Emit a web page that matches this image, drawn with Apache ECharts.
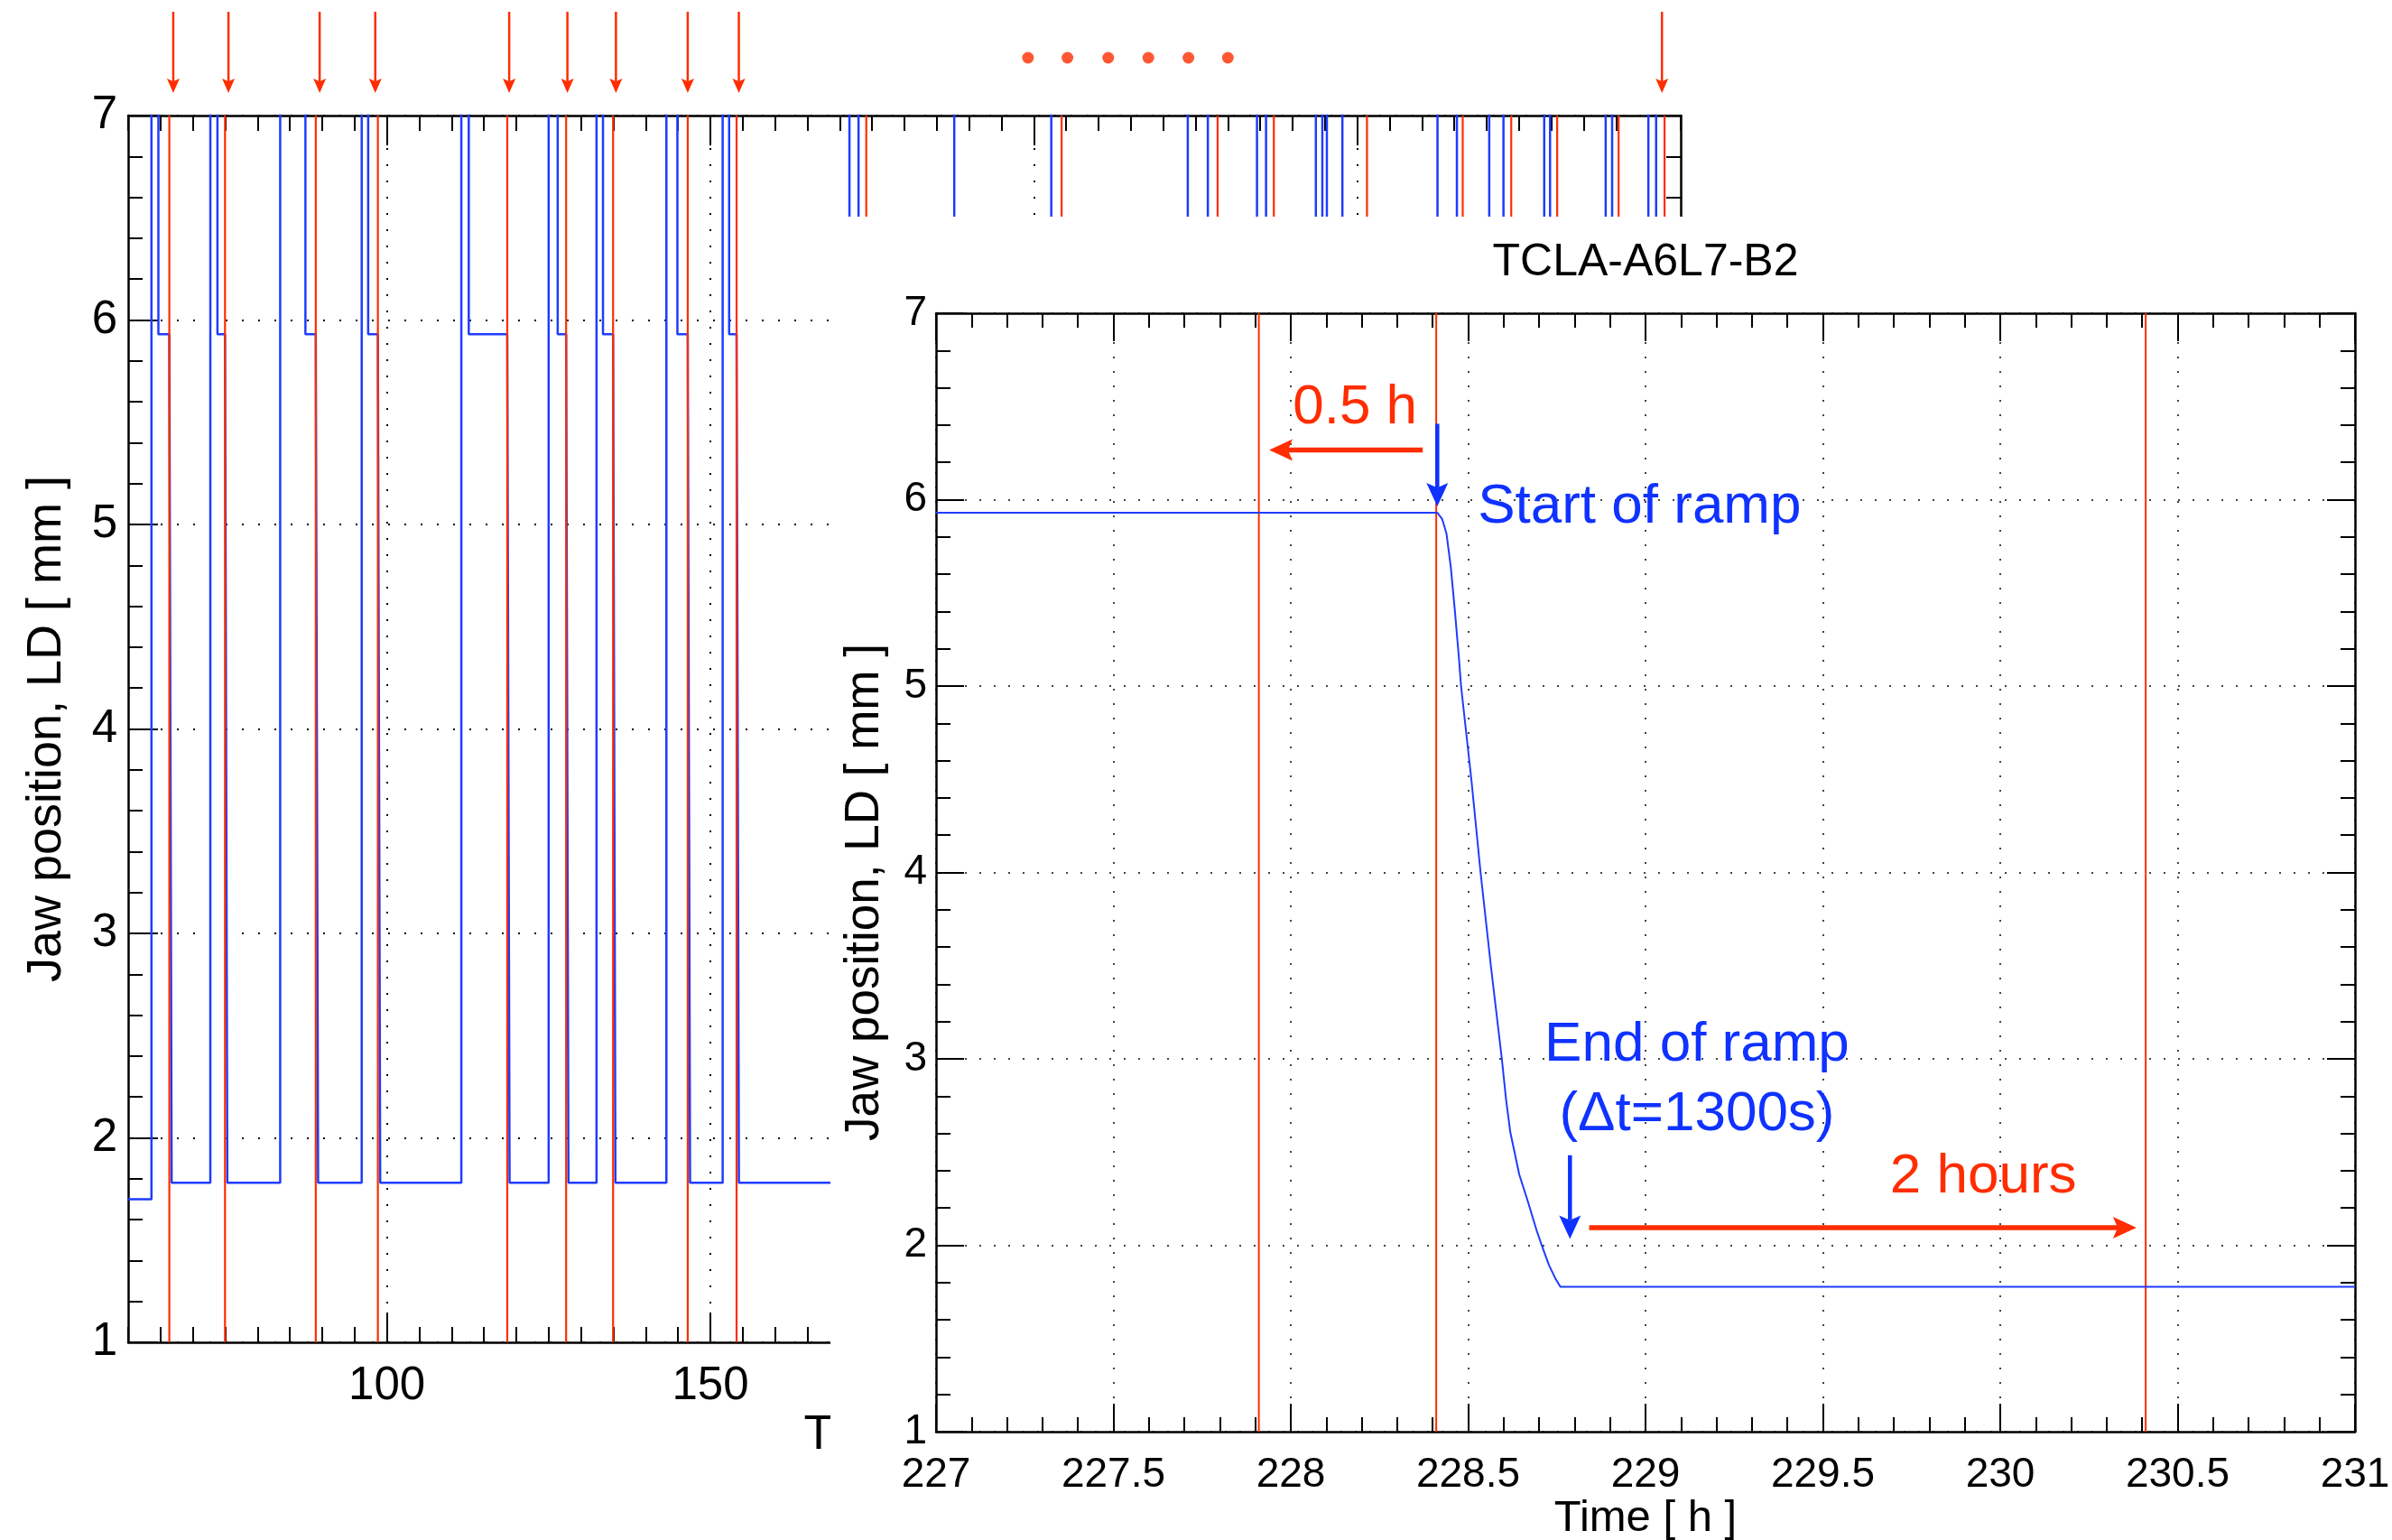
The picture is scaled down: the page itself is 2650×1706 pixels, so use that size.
<!DOCTYPE html>
<html><head><meta charset="utf-8">
<script src="https://cdn.jsdelivr.net/npm/echarts@6/dist/echarts.min.js"></script>
<style>html,body{margin:0;padding:0;background:#fff}#c{width:2650px;height:1706px}</style>
</head><body><div id="c"></div>
<script>
// ================= DATA =================
// Overview (background) chart: jaw position vs time [h]; 9 = jaw open (off scale above 7 mm)
const overviewTime = [60, 63.6, 63.6, 64.67, 64.67, 66.36, 66.72, 72.7, 72.7, 73.8, 73.8, 74.97, 75.33,
  83.5, 83.5, 87.4, 87.4, 89.0, 89.36, 96.1, 96.1, 97.1, 97.1, 98.6, 98.96,
  111.5, 111.5, 112.65, 112.65, 118.6, 118.96, 125.0, 125.0, 126.4, 126.4, 127.7, 128.06,
  132.4, 132.4, 133.4, 133.4, 134.96, 135.32, 143.2, 143.2, 144.9, 144.9, 146.5, 146.86,
  151.9, 151.9, 152.9, 152.9, 154.05, 154.41, 171.5, 171.5, 172.9, 172.9, 174.1, 174.46,
  187.7, 187.7, 202.7, 202.7, 204.3, 204.66, 223.8, 223.8, 226.9, 226.9, 228.41, 228.77,
  234.5, 234.5, 235.9, 235.9, 237.1, 237.46, 243.6, 243.6, 244.6, 244.6, 245.3, 245.3, 247.7, 247.7, 251.5, 251.86,
  262.4, 262.4, 265.4, 265.4, 266.3, 266.66, 270.4, 270.4, 272.6, 272.6, 273.8, 274.16,
  278.9, 278.9, 279.8, 279.8, 280.9, 281.26, 288.4, 288.4, 289.4, 289.4, 290.4, 290.76,
  295.0, 295.0, 296.2, 296.2, 297.5, 297.86, 300];
const overviewPos = [1.70, 1.70, 9, 9, 5.93, 5.93, 1.78, 1.78, 9, 9, 5.93, 5.93, 1.78,
  1.78, 9, 9, 5.93, 5.93, 1.78, 1.78, 9, 9, 5.93, 5.93, 1.78,
  1.78, 9, 9, 5.93, 5.93, 1.78, 1.78, 9, 9, 5.93, 5.93, 1.78,
  1.78, 9, 9, 5.93, 5.93, 1.78, 1.78, 9, 9, 5.93, 5.93, 1.78,
  1.78, 9, 9, 5.93, 5.93, 1.78, 1.78, 9, 9, 5.93, 5.93, 1.78,
  1.78, 9, 9, 5.93, 5.93, 1.78, 1.78, 9, 9, 5.93, 5.93, 1.78,
  1.78, 9, 9, 5.93, 5.93, 1.78, 1.78, 9, 9, 5.93, 5.93, 9, 9, 5.93, 5.93, 1.78,
  1.78, 9, 9, 5.93, 5.93, 1.78, 1.78, 9, 9, 5.93, 5.93, 1.78,
  1.78, 9, 9, 5.93, 5.93, 1.78, 1.78, 9, 9, 5.93, 5.93, 1.78,
  1.78, 9, 9, 5.93, 5.93, 1.78, 1.78];
const overviewRedLines = [66.36, 74.97, 89.0, 98.6, 118.6, 127.7, 134.96, 146.5, 154.05,
  174.1, 204.3, 228.41, 237.1, 251.5, 266.3, 273.8, 280.9, 290.4, 297.5];
const overviewArrowTime = [66.97, 75.5, 89.6, 98.2, 118.9, 127.9, 135.4, 146.5, 154.4, 297.1];
const overviewDotTime = [199.1, 205.2, 211.5, 217.7, 223.9, 230.0];
const overviewTickLabels = [100, 150, 200, 250];

// Inset (zoomed) chart: TCLA-A6L7-B2
const zoomTime = [227.0, 228.413, 228.427, 228.439, 228.451, 228.462, 228.474, 228.480, 228.509, 228.535,
  228.564, 228.595, 228.607, 228.619, 228.644, 228.669, 228.693, 228.708, 228.728, 228.747, 228.760, 231.0];
const zoomPos = [5.93, 5.93, 5.895, 5.817, 5.640, 5.417, 5.150, 5.000, 4.500, 4.000,
  3.500, 3.000, 2.780, 2.605, 2.380, 2.231, 2.080, 1.997, 1.893, 1.818, 1.777, 1.777];
const zoomRedLines = [227.91, 228.41, 230.41];
// annotation arrows: [fromTime, fromPos, toTime, toPos]
const zoomRedArrows = [[228.372, 6.266, 227.939, 6.266], [228.841, 2.095, 230.384, 2.095]];
const zoomBlueArrows = [[228.413, 6.407, 228.413, 5.964], [228.787, 2.483, 228.787, 2.034]];
const zoomRedNotes = ['0.5 h', '2 hours'];
const zoomRedNoteTime = [228.181, 229.952];
const zoomRedNotePos = [6.49, 2.365];
const zoomBlueNotes = ['Start of ramp', 'End of ramp\n(\u0394t=1300s)'];
const zoomBlueNoteTime = [228.983, 229.145];
const zoomBlueNotePos = [5.96, 2.885];

// ================= STYLE / RENDER =================
const FONT = '"Liberation Sans", Arial, Helvetica, sans-serif';
const BLUE = '#1e3cff', RED = '#ff2d00', TXTBLUE = '#0f32ff';
const chart = echarts.init(document.getElementById('c'), null, {renderer: 'canvas', width: 2650, height: 1706});

function vLines(color, width) {
  return function (params, api) {
    const x = api.coord([api.value(0), api.value(1)])[0];
    const cs = params.coordSys;
    return {type: 'line', shape: {x1: x, y1: cs.y, x2: x, y2: cs.y + cs.height},
      style: {stroke: color, lineWidth: width}};
  };
}
function arrows(color, lw, headLen, headW) {
  return function (params, api) {
    const a = api.coord([api.value(0), api.value(1)]);
    const b = api.coord([api.value(2), api.value(3)]);
    const dx = b[0] - a[0], dy = b[1] - a[1], L = Math.hypot(dx, dy);
    const ux = dx / L, uy = dy / L, nx = -uy, ny = ux;
    const base = [b[0] - ux * headLen, b[1] - uy * headLen];
    const notch = [b[0] - ux * headLen * 0.8, b[1] - uy * headLen * 0.8];
    return {type: 'group', children: [
      {type: 'line', shape: {x1: a[0], y1: a[1], x2: notch[0], y2: notch[1]}, style: {stroke: color, lineWidth: lw}},
      {type: 'polygon', shape: {points: [[b[0], b[1]], [base[0] + nx * headW / 2, base[1] + ny * headW / 2],
        notch, [base[0] - nx * headW / 2, base[1] - ny * headW / 2]]}, style: {fill: color}}
    ]};
  };
}
function notes(texts, color) {
  return function (params, api) {
    const p = api.coord([api.value(0), api.value(1)]);
    return {type: 'text', x: p[0], y: p[1], style: {text: texts[params.dataIndex], fill: color,
      fontSize: 62, fontFamily: FONT, align: 'center', verticalAlign: 'middle',
      textAlign: 'center', textVerticalAlign: 'middle', lineHeight: 77}};
  };
}

const axLine = {show: true, onZero: false, lineStyle: {color: '#000', width: 2.5}};
const tickStyle = {color: '#000', width: 2};
const bgDots = {show: true, lineStyle: {color: '#000', width: 2, type: [2, 16]}};
const inDots = {show: true, lineStyle: {color: '#444', width: 2, type: [2, 14]}};
const bgLabel = {color: '#000', fontSize: 51, fontFamily: FONT};
const inLabel = {color: '#000', fontSize: 46, fontFamily: FONT};

const option = {
  animation: false,
  backgroundColor: '#fff',
  grid: [
    {left: 142, top: 128, width: 1720, height: 1359, outerBoundsMode: 'none', containLabel: false},
    {left: 142, top: 0, width: 1720, height: 128, outerBoundsMode: 'none', containLabel: false},
    {left: 1037, top: 347, width: 1572, height: 1239, outerBoundsMode: 'none', containLabel: false}
  ],
  graphic: [{type: 'rect', zlevel: 1, z: 0, shape: {x: 920, y: 240, width: 1730, height: 1466}, style: {fill: '#fff'}}],
  xAxis: [
    {gridIndex: 0, type: 'value', min: 60, max: 300, position: 'bottom', axisLine: axLine,
      axisTick: {show: true, inside: true, length: 33, customValues: overviewTickLabels, lineStyle: tickStyle},
      axisLabel: Object.assign({show: true, margin: 23, customValues: overviewTickLabels}, bgLabel),
      splitLine: bgDots, minorTick: {show: false}, nameMoveOverlap: false,
      name: 'Time [ h ]', nameLocation: 'middle', nameGap: 76, nameTextStyle: {color: '#000', fontSize: 54, fontFamily: FONT}},
    {gridIndex: 0, type: 'value', min: 60, max: 300, interval: 5, position: 'bottom', axisLine: {show: false},
      axisTick: {show: true, inside: true, length: 17, lineStyle: tickStyle}, axisLabel: {show: false}, splitLine: {show: false}},
    {gridIndex: 0, type: 'value', min: 60, max: 300, position: 'top', axisLine: axLine,
      axisTick: {show: true, inside: true, length: 33, customValues: overviewTickLabels, lineStyle: tickStyle},
      axisLabel: {show: false}, splitLine: {show: false}},
    {gridIndex: 0, type: 'value', min: 60, max: 300, interval: 5, position: 'top', axisLine: {show: false},
      axisTick: {show: true, inside: true, length: 17, lineStyle: tickStyle}, axisLabel: {show: false}, splitLine: {show: false}},
    {gridIndex: 1, type: 'value', min: 60, max: 300, show: false},
    {gridIndex: 2, type: 'value', min: 227, max: 231, interval: 0.5, position: 'bottom', zlevel: 1, z: 2, axisLine: axLine,
      axisTick: {show: true, inside: true, length: 31, lineStyle: tickStyle},
      minorTick: {show: true, splitNumber: 5, length: 16, lineStyle: tickStyle},
      axisLabel: Object.assign({show: true, margin: 25}, inLabel), splitLine: inDots, nameMoveOverlap: false,
      name: 'Time [ h ]', nameLocation: 'middle', nameGap: 72, nameTextStyle: {color: '#000', fontSize: 49, fontFamily: FONT}},
    {gridIndex: 2, type: 'value', min: 227, max: 231, interval: 0.5, position: 'top', zlevel: 1, z: 2, axisLine: axLine,
      axisTick: {show: true, inside: true, length: 31, lineStyle: tickStyle},
      minorTick: {show: true, splitNumber: 5, length: 16, lineStyle: tickStyle},
      axisLabel: {show: false}, splitLine: {show: false}, nameMoveOverlap: false,
      name: 'TCLA-A6L7-B2', nameLocation: 'middle', nameGap: 31, nameTextStyle: {color: '#000', fontSize: 50, fontFamily: FONT}}
  ],
  yAxis: [
    {gridIndex: 0, type: 'value', min: 1, max: 7, interval: 1, position: 'left', axisLine: axLine,
      axisTick: {show: true, inside: true, length: 33, lineStyle: tickStyle},
      minorTick: {show: true, splitNumber: 5, length: 16, lineStyle: tickStyle},
      axisLabel: Object.assign({show: true, margin: 12}, bgLabel), splitLine: bgDots, nameMoveOverlap: false,
      name: 'Jaw position, LD [ mm ]', nameLocation: 'middle', nameGap: 63, nameTextStyle: {color: '#000', fontSize: 54, fontFamily: FONT}},
    {gridIndex: 0, type: 'value', min: 1, max: 7, interval: 1, position: 'right', axisLine: axLine,
      axisTick: {show: true, inside: true, length: 33, lineStyle: tickStyle},
      minorTick: {show: true, splitNumber: 5, length: 16, lineStyle: tickStyle},
      axisLabel: {show: false}, splitLine: {show: false}},
    {gridIndex: 1, type: 'value', min: 0, max: 1, show: false},
    {gridIndex: 2, type: 'value', min: 1, max: 7, interval: 1, position: 'left', zlevel: 1, z: 2, axisLine: axLine,
      axisTick: {show: true, inside: true, length: 31, lineStyle: tickStyle},
      minorTick: {show: true, splitNumber: 5, length: 16, lineStyle: tickStyle},
      axisLabel: Object.assign({show: true, margin: 10}, inLabel), splitLine: inDots, nameMoveOverlap: false,
      name: 'Jaw position, LD [ mm ]', nameLocation: 'middle', nameGap: 52,
      nameTextStyle: {color: '#000', fontSize: 53, fontFamily: FONT, padding: [0, 44, 0, 0]}},
    {gridIndex: 2, type: 'value', min: 1, max: 7, interval: 1, position: 'right', zlevel: 1, z: 2, axisLine: axLine,
      axisTick: {show: true, inside: true, length: 31, lineStyle: tickStyle},
      minorTick: {show: true, splitNumber: 5, length: 16, lineStyle: tickStyle},
      axisLabel: {show: false}, splitLine: {show: false}}
  ],
  series: [
    // ---- background ----
    {type: 'line', xAxisIndex: 0, yAxisIndex: 0, showSymbol: false, clip: true, z: 3,
      lineStyle: {color: BLUE, width: 2.5}, data: overviewTime.map((t, i) => [t, overviewPos[i]])},
    {type: 'custom', xAxisIndex: 0, yAxisIndex: 0, z: 4, renderItem: vLines(RED, 2.2),
      data: overviewRedLines.map(t => [t, 1])},
    {type: 'custom', xAxisIndex: 4, yAxisIndex: 2, z: 4, renderItem: arrows(RED, 2.5, 16, 14),
      data: overviewArrowTime.map(t => [t, 0.898, t, 0.195])},
    {type: 'scatter', xAxisIndex: 4, yAxisIndex: 2, symbol: 'circle', symbolSize: 13, z: 4,
      itemStyle: {color: RED}, data: overviewDotTime.map(t => [t, 0.5])},
    // ---- inset ----
    {type: 'custom', xAxisIndex: 5, yAxisIndex: 3, zlevel: 1, z: 3, renderItem: vLines(RED, 2),
      data: zoomRedLines.map(t => [t, 1])},
    {type: 'line', xAxisIndex: 5, yAxisIndex: 3, zlevel: 1, z: 4, showSymbol: false,
      lineStyle: {color: BLUE, width: 2}, data: zoomTime.map((t, i) => [t, zoomPos[i]])},
    {type: 'custom', xAxisIndex: 5, yAxisIndex: 3, zlevel: 1, z: 5, renderItem: arrows(RED, 5.5, 26, 24), data: zoomRedArrows},
    {type: 'custom', xAxisIndex: 5, yAxisIndex: 3, zlevel: 1, z: 5, renderItem: arrows(TXTBLUE, 4.5, 26, 24), data: zoomBlueArrows},
    {type: 'custom', xAxisIndex: 5, yAxisIndex: 3, zlevel: 1, z: 6, renderItem: notes(zoomRedNotes, RED),
      data: zoomRedNoteTime.map((t, i) => [t, zoomRedNotePos[i]])},
    {type: 'custom', xAxisIndex: 5, yAxisIndex: 3, zlevel: 1, z: 6, renderItem: notes(zoomBlueNotes, TXTBLUE),
      data: zoomBlueNoteTime.map((t, i) => [t, zoomBlueNotePos[i]])}
  ]
};
chart.setOption(option);
</script>
</body></html>
